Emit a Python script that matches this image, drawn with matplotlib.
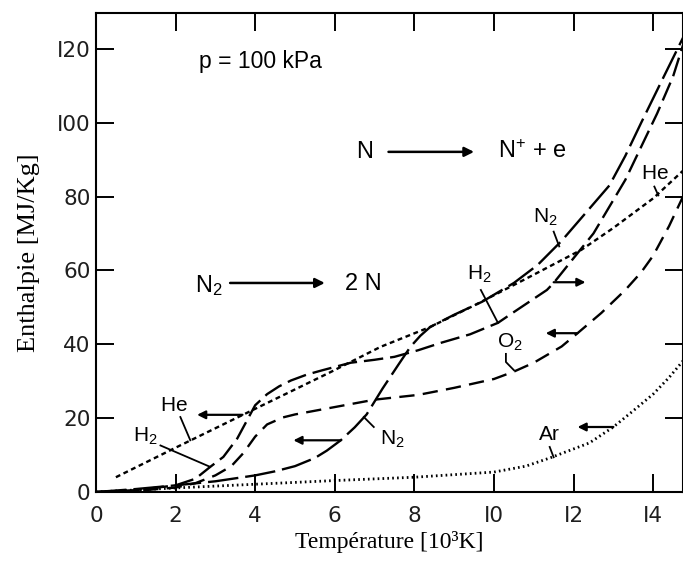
import matplotlib
matplotlib.use("Agg")
import matplotlib.pyplot as plt

plt.rcParams['lines.scale_dashes'] = False
plt.rcParams['mathtext.fontset'] = 'custom'
plt.rcParams['mathtext.rm'] = 'Liberation Sans'
plt.rcParams['mathtext.it'] = 'Liberation Sans:italic'
plt.rcParams['mathtext.bf'] = 'Liberation Sans:bold'

# ---------------- data (T in 10^3 K, h in MJ/kg) ----------------
T_he = [0.5, 2.0, 3.9, 5.9, 7.15, 8.4, 9.5, 10.85, 12.2, 13.0, 14.0, 14.75]
H_he = [4.0, 12.0, 22.0, 32.5, 39.3, 44.7, 50.5, 58.0, 65.6, 71.5, 79.5, 87.0]

T_h2 = [0, 1, 2, 2.5, 2.87, 3.2, 3.55, 3.8, 4.0, 4.3, 4.6, 4.9, 5.3, 5.7, 6.4, 7.0, 7.5,
        8.1, 8.67, 9.4, 10.1, 10.4, 11.33, 11.5, 12.2, 12.5, 13.3, 13.7, 14.1, 14.5, 14.75]
H_h2 = [0, 0.5, 1.8, 3.6, 6.8, 9.5, 14.5, 19.5, 23.5, 26.5, 28.6, 30.2, 31.8, 33.0, 35.0, 35.8, 36.6,
        38.4, 40.4, 42.7, 45.8, 48.0, 54.7, 56.6, 66.0, 70.0, 84.5, 93.5, 102.5, 112.5, 121.0]

T_n2 = [0, 1, 2, 3, 4, 4.5, 5, 5.5, 5.8, 6.15, 6.5, 6.8, 7.2, 7.6, 7.9, 8.15, 8.4, 9.0, 9.7,
        10.5, 11.1, 11.7, 12.3, 12.9, 13.3, 13.7, 14.2, 14.75]
H_n2 = [0, 0.8, 1.8, 2.9, 4.5, 5.6, 7.0, 9.2, 11.2, 14.0, 17.5, 21.0, 28.0, 34.5, 39.3, 42.3, 44.7,
        48.0, 51.5, 56.6, 61.5, 68.0, 75.5, 83.0, 91.0, 100.0, 111.0, 123.0]

T_o2 = [0, 1, 2, 2.5, 3.0, 3.4, 3.7, 4.0, 4.3, 4.7, 5.0, 5.9, 7.0, 8.1, 9.0, 10.0,
        10.5, 11.0, 11.7, 12.1, 12.7, 13.3, 13.7, 14.0, 14.4, 14.75]
H_o2 = [0, 0.3, 1.2, 2.4, 4.5, 7.0, 10.5, 15.0, 18.3, 20.2, 21.0, 22.8, 25.0, 26.3, 28.2,
        30.6, 32.6, 35.0, 39.4, 43.0, 48.5, 54.7, 59.5, 64.0, 72.0, 80.0]

T_ar = [0, 2, 4, 6, 8, 10, 10.8, 11.4, 12.4, 13.0, 13.5, 14.0, 14.4, 14.75]
H_ar = [0, 1.1, 2.1, 3.1, 4.0, 5.4, 7.0, 9.2, 13.3, 17.6, 22.0, 26.5, 31.0, 35.5]

x_ticks = [0, 2, 4, 6, 8, 10, 12, 14]
x_ticklabels = ['0', '2', '4', '6', '8', 'I0', 'I2', 'I4']
y_ticks = [0, 20, 40, 60, 80, 100, 120]
y_ticklabels = ['0', '20', '40', '60', '80', 'I00', 'I20']

# ---------------- figure ----------------
W, H = 683, 561
fig = plt.figure(figsize=(W / 100, H / 100), dpi=100)
ax = fig.add_axes([96 / W, 69 / H, 587 / W, 479 / H])
ax.set_xlim(0, 14.75)
ax.set_ylim(0, 129.7)

lw = 1.7
ax.plot(T_he, H_he, color='black', lw=lw, dashes=(3.5, 2.6))
ax.plot(T_h2, H_h2, color='black', lw=lw, dashes=(14, 5))
ax.plot(T_n2, H_n2, color='black', lw=lw, dashes=(22, 5))
ax.plot(T_o2, H_o2, color='black', lw=lw, dashes=(11, 6))
ax.plot(T_ar, H_ar, color='black', lw=2.0, dashes=(1.2, 2.3))

# ticks
ax.set_xticks(x_ticks)
ax.set_xticklabels(x_ticklabels)
ax.set_yticks(y_ticks)
ax.set_yticklabels(y_ticklabels)
ax.tick_params(direction='in', length=13, width=1.4, top=True, right=True,
               labelsize=15.5, colors='black')
ax.tick_params(axis='x', pad=10)
ax.tick_params(axis='y', pad=4)
for lab in ax.get_xticklabels() + ax.get_yticklabels():
    lab.set_family('DejaVu Sans')
    lab.set_color('#1e1e1e')
for s in ax.spines.values():
    s.set_linewidth(1.5)

ax.set_xlabel('Température [10³K]', family='Liberation Serif', fontsize=17, labelpad=4)
ax.set_ylabel('Enthalpie [MJ/Kg]', family='Liberation Serif', fontsize=19, labelpad=12)

sans = 'Liberation Sans'
ax.text(2.6, 116.5, 'p = 100 kPa', family=sans, fontsize=16.5, va='center', ha='left')

# reaction N -> N+ + e
ax.text(6.76, 92.1, 'N', family=sans, fontsize=17, va='center', ha='center')
ax.annotate('', xy=(9.5, 92.1), xytext=(7.35, 92.1),
            arrowprops=dict(arrowstyle='-|>', lw=1.8, color='black', mutation_scale=14,
                            shrinkA=0, shrinkB=0))
ax.text(10.1, 92.1, r'$\mathrm{N}^{+}$ + e', family=sans, fontsize=17, va='center', ha='left')

# reaction N2 -> 2N
ax.text(2.5, 56.0, r'$\mathrm{N}_{2}$', fontsize=17, va='center', ha='left')
ax.annotate('', xy=(5.75, 56.6), xytext=(3.37, 56.6),
            arrowprops=dict(arrowstyle='-|>', lw=1.8, color='black', mutation_scale=14,
                            shrinkA=0, shrinkB=0))
ax.text(6.26, 56.4, '2 N', family=sans, fontsize=17, va='center', ha='left')

# curve labels with pointer lines
curve_labels = [
    (r'$\mathrm{He}$', (1.95, 23.5), [(2.12, 20.3), (2.37, 14.0)]),
    (r'$\mathrm{H}_{2}$', (1.25, 15.2), [(1.62, 12.6), (2.87, 6.8)]),
    (r'$\mathrm{N}_{2}$', (7.45, 14.3), [(6.98, 17.6), (6.73, 20.3)]),
    (r'$\mathrm{N}_{2}$', (11.3, 74.3), [(11.5, 70.5), (11.64, 66.5)]),
    (r'$\mathrm{H}_{2}$', (9.62, 59.0), [(9.67, 54.7), (10.1, 45.8)]),
    (r'$\mathrm{O}_{2}$', (10.4, 40.6), [(10.3, 37.4), (10.3, 35.2), (10.5, 33.0)]),
    (r'$\mathrm{He}$', (14.05, 86.5), [(14.03, 82.7), (14.13, 80.3)]),
    (r'$\mathrm{Ar}$', (11.4, 15.8), [(11.4, 12.2), (11.5, 9.4)]),
]
for txt, pos, pts in curve_labels:
    ax.text(pos[0], pos[1], txt, fontsize=15, ha='center', va='center')
    xs = [p[0] for p in pts]
    ys = [p[1] for p in pts]
    ax.plot(xs, ys, color='black', lw=1.3)

# indicator arrows
arrows = [
    ((3.68, 20.9), (2.54, 20.9)),
    ((6.15, 14.0), (4.96, 14.0)),
    ((11.5, 56.8), (12.3, 56.8)),
    ((12.1, 43.0), (11.3, 43.0)),
    ((13.0, 17.6), (12.1, 17.6)),
]
for start, end in arrows:
    ax.annotate('', xy=end, xytext=start,
                arrowprops=dict(arrowstyle='-|>', lw=1.6, color='black', mutation_scale=12,
                                shrinkA=0, shrinkB=0))

fig.savefig('out.png', dpi=100)
